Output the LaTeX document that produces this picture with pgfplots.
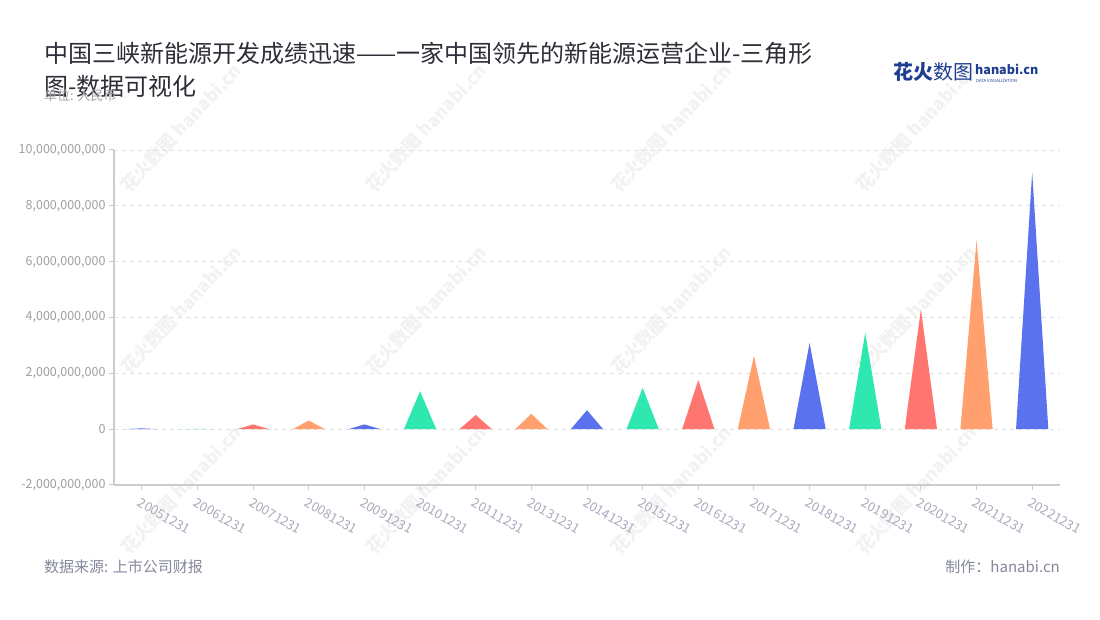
\documentclass[border=0pt]{standalone}
\usepackage{pgfplots}
\pgfplotsset{compat=1.18}
\usepackage{fontspec}
\setmainfont{Noto Sans CJK SC}
\definecolor{cblue}{HTML}{5A72EE}
\definecolor{cgreen}{HTML}{2EE8B0}
\definecolor{cred}{HTML}{FF7670}
\definecolor{corange}{HTML}{FFA06E}
\definecolor{axisgray}{HTML}{CCCCCC}
\definecolor{gridgray}{HTML}{E0E0E0}
\definecolor{labelgray}{HTML}{A0A0A0}
\definecolor{xlabelgray}{HTML}{A9ABBE}
\definecolor{footgray}{HTML}{85889A}
\definecolor{titlecol}{HTML}{2E2E38}
\definecolor{logoblue}{HTML}{1F3E92}
\begin{document}
\begin{tikzpicture}
\path[use as bounding box, fill=white] (0pt,0pt) rectangle (1100pt,620pt);
% watermarks
\foreach \cx in {181,426,671,916}{
  \foreach \cy in {492,310,130}{
    \node[rotate=47, text=black!5, font=\bfseries\fontsize{18}{18}\selectfont] at (\cx pt,\cy pt) {花火数图 hanabi.cn};
  }
}
\begin{axis}[
    at={(114pt,135pt)}, anchor=south west,
    scale only axis, width=946pt, height=335pt,
    xmin=-0.5, xmax=16.5, ymin=-2e9, ymax=1e10,
    axis x line*=bottom, axis y line*=left,
    axis line style={axisgray, line width=1.2pt, -},
    xtick={0,...,16},
    xticklabels={20051231,20061231,20071231,20081231,20091231,20101231,20111231,20131231,20141231,20151231,20161231,20171231,20181231,20191231,20201231,20211231,20221231},
    ytick={-2e9,0,2e9,4e9,6e9,8e9,1e10},
    yticklabels={{-2,000,000,000},{0},{2,000,000,000},{4,000,000,000},{6,000,000,000},{8,000,000,000},{10,000,000,000}},
    scaled y ticks=false,
    tick align=outside, major tick length=5pt,
    tick style={axisgray, line width=1pt},
    ymajorgrids,
    grid style={gridgray, dash pattern=on 4pt off 4pt, line width=0.8pt},
    xticklabel style={rotate=-30, anchor=north west, text=xlabelgray, font=\fontsize{13}{13}\selectfont, yshift=-3pt},
    yticklabel style={text=labelgray, font=\fontsize{12.5}{12.5}\selectfont},
    /pgf/number format/assume math mode=true,
]
\addplot[fill=cblue, draw=none] coordinates {(-0.29,0) (0,3e7) (0.29,0)} \closedcycle;
\addplot[fill=cgreen, draw=none] coordinates {(0.71,0) (1,1e7) (1.29,0)} \closedcycle;
\addplot[fill=cred, draw=none] coordinates {(1.71,0) (2,1.7e8) (2.29,0)} \closedcycle;
\addplot[fill=corange, draw=none] coordinates {(2.71,0) (3,3.1e8) (3.29,0)} \closedcycle;
\addplot[fill=cblue, draw=none] coordinates {(3.71,0) (4,1.7e8) (4.29,0)} \closedcycle;
\addplot[fill=cgreen, draw=none] coordinates {(4.71,0) (5,1.36e9) (5.29,0)} \closedcycle;
\addplot[fill=cred, draw=none] coordinates {(5.71,0) (6,5.1e8) (6.29,0)} \closedcycle;
\addplot[fill=corange, draw=none] coordinates {(6.71,0) (7,5.5e8) (7.29,0)} \closedcycle;
\addplot[fill=cblue, draw=none] coordinates {(7.71,0) (8,6.8e8) (8.29,0)} \closedcycle;
\addplot[fill=cgreen, draw=none] coordinates {(8.71,0) (9,1.48e9) (9.29,0)} \closedcycle;
\addplot[fill=cred, draw=none] coordinates {(9.71,0) (10,1.76e9) (10.29,0)} \closedcycle;
\addplot[fill=corange, draw=none] coordinates {(10.71,0) (11,2.62e9) (11.29,0)} \closedcycle;
\addplot[fill=cblue, draw=none] coordinates {(11.71,0) (12,3.09e9) (12.29,0)} \closedcycle;
\addplot[fill=cgreen, draw=none] coordinates {(12.71,0) (13,3.45e9) (13.29,0)} \closedcycle;
\addplot[fill=cred, draw=none] coordinates {(13.71,0) (14,4.29e9) (14.29,0)} \closedcycle;
\addplot[fill=corange, draw=none] coordinates {(14.71,0) (15,6.77e9) (15.29,0)} \closedcycle;
\addplot[fill=cblue, draw=none] coordinates {(15.71,0) (16,9.2e9) (16.29,0)} \closedcycle;
\end{axis}
% title and notes
\node[anchor=base west, inner sep=0, text=titlecol, font=\fontsize{24}{24}\selectfont] at (44pt,557pt) {中国三峡新能源开发成绩迅速——一家中国领先的新能源运营企业-三角形};
\node[anchor=base west, inner sep=0, text=titlecol, font=\fontsize{24}{24}\selectfont] at (44pt,524pt) {图-数据可视化};
\node[anchor=base west, inner sep=0, text=labelgray, font=\fontsize{13}{13}\selectfont] at (44pt,519pt) {单位: 人民币};
\node[anchor=base west, inner sep=0, text=footgray, font=\fontsize{15}{15}\selectfont] at (44pt,47pt) {数据来源: 上市公司财报};
\node[anchor=base east, inner sep=0, text=footgray, font=\fontsize{15}{15}\selectfont] at (1060pt,47pt) {制作：hanabi.cn};
% logo
\node[anchor=base west, inner sep=0, text=logoblue, font=\fontsize{20}{20}\selectfont] at (893pt,540pt) {\textbf{花火}数图};
\node[anchor=base west, inner sep=0, text=logoblue, font=\bfseries\fontsize{12.5}{12.5}\selectfont] at (975pt,545pt) {hanabi.cn};
\node[anchor=base west, inner sep=0, text=logoblue, font=\fontsize{4.2}{4.2}\selectfont] at (976pt,537pt) {DATA VISUALIZATION};
\end{tikzpicture}
\end{document}
